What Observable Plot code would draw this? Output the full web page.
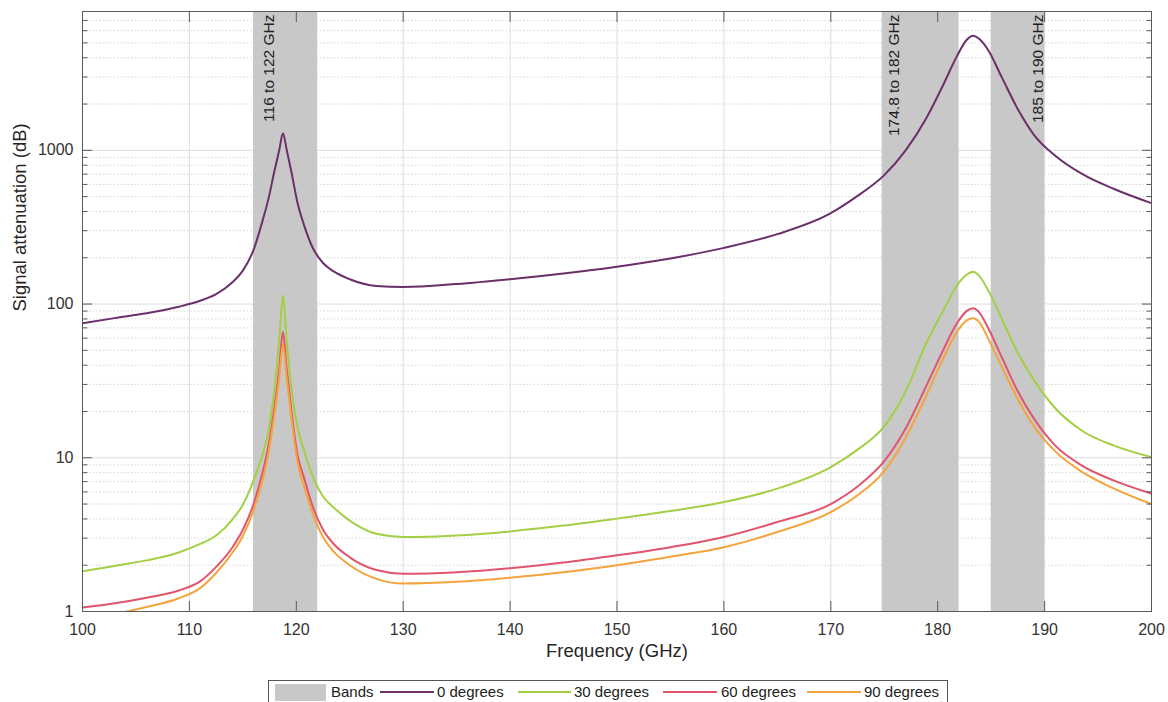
<!DOCTYPE html>
<html>
<head>
<meta charset="utf-8">
<script src="https://cdn.jsdelivr.net/npm/d3@7"></script>
<script src="https://cdn.jsdelivr.net/npm/@observablehq/plot@0.6"></script>
<style>
  body { margin: 0; background: #fff; font-family: "Liberation Sans", Arial, sans-serif; }
  #wrap { position: relative; width: 1168px; height: 702px; overflow: hidden; background: #fff; }
  #chart { position: absolute; left: 0; top: 0; }
  #legend { position: absolute; left: 268px; top: 680px; width: 680px; height: 24px; border: 1px solid #555; background: #fff; box-sizing: border-box; font-size: 15px; color: #222; }
  #legend .it { position: absolute; top: 0; height: 22px; line-height: 22px; white-space: nowrap; }
  #legend .sw { position: absolute; top: 3px; height: 17px; background: #c8c8c8; }
  #legend .ln { position: absolute; top: 10px; height: 2px; }
</style>
</head>
<body>
<div id="wrap"><div id="chart"></div><div id="legend"></div></div>
<script>
// ---- data ----
const freq = [100, 103, 106, 109, 111, 112.5, 114, 115, 116, 116.8, 117.4, 117.95, 118.4, 118.75, 119.1, 119.55, 120.1, 120.7, 121.5, 122.5, 123.5, 125, 127.5, 130, 135, 140, 145, 150, 155, 160, 165, 170, 172.5, 175, 177, 179, 180.5, 181.8, 182.7, 183.3, 183.9, 184.8, 186, 187.5, 189, 191, 193.5, 196.5, 200];
const att0 = [75, 81, 87, 96, 105, 116, 138, 165, 225, 340, 485, 730, 1000, 1290, 1010, 720, 460, 330, 235, 185, 163, 145, 131, 129, 135, 145, 158, 175, 198, 232, 285, 390, 505, 690, 1000, 1650, 2650, 4100, 5220, 5570, 5300, 4400, 2980, 1850, 1262, 922, 702, 560, 453];
const att30 = [1.83, 1.98, 2.15, 2.42, 2.75, 3.12, 3.95, 4.95, 7.1, 10.3, 15, 28, 58, 114, 58, 28, 16, 11.3, 7.7, 5.6, 4.75, 3.9, 3.2, 3.05, 3.12, 3.32, 3.62, 4.02, 4.5, 5.15, 6.3, 8.7, 11.3, 16, 27, 57, 90, 132, 155, 162, 152, 120, 80, 48, 32, 21, 15, 12, 10.1];
const att60 = [1.06, 1.13, 1.23, 1.37, 1.57, 1.95, 2.6, 3.4, 5.0, 7.8, 12, 21, 38, 66, 38, 20, 10.5, 7.5, 4.9, 3.4, 2.75, 2.25, 1.86, 1.76, 1.8, 1.91, 2.08, 2.32, 2.62, 3.05, 3.82, 5.0, 6.5, 9.5, 15.5, 30, 50, 75, 90, 93.8, 88, 68, 45, 27, 18, 12, 8.9, 7.1, 5.85];
const att90 = [0.9, 0.965, 1.07, 1.22, 1.42, 1.78, 2.4, 3.1, 4.55, 7.0, 10.8, 19, 33, 55, 33, 18, 9.5, 6.6, 4.4, 3.05, 2.45, 2.0, 1.63, 1.52, 1.56, 1.66, 1.8, 2.0, 2.27, 2.62, 3.29, 4.43, 5.7, 8.2, 13.5, 26, 44, 66, 78, 80.7, 76, 58, 39, 24, 16, 11, 8.1, 6.3, 5.0];
const seriesNames = ["0 degrees", "30 degrees", "60 degrees", "90 degrees"];
const bandStart = [116, 174.8, 185];
const bandEnd = [122, 182, 190];
const bandLabel = ["116 to 122 GHz", "174.8 to 182 GHz", "185 to 190 GHz"];
const xTicks = [100, 110, 120, 130, 140, 150, 160, 170, 180, 190, 200];
const yTicks = [1, 10, 100, 1000];
const yTickLabels = ["1", "10", "100", "1000"];
const xLabel = "Frequency (GHz)";
const yLabel = "Signal attenuation (dB)";
const legendBandsLabel = "Bands";

// ---- derived tables ----
const seriesValues = [att0, att30, att60, att90];
const colors = ["#6b2f6b", "#a3cf45", "#e2546b", "#f4a43c"];
const rows = seriesNames.flatMap((s, i) => freq.map((f, j) => ({f, v: seriesValues[i][j], s})));
const bands = bandStart.map((s, i) => ({start: s, end: bandEnd[i], label: bandLabel[i]}));
const minorY = [];
for (const dec of [1, 10, 100, 1000]) for (let m = 2; m <= 9; m++) if (dec * m <= 8000) minorY.push(dec * m);

const axisColor = "#5a5a5a";
const labelPlacement = [{key: "start", dx: 9}, {key: "start", dx: 6}, {key: "end", dx: -13}];

const plot = Plot.plot({
  width: 1168, height: 680,
  marginTop: 11, marginRight: 17, marginBottom: 69, marginLeft: 82,
  style: {fontFamily: "'Liberation Sans', Arial, sans-serif", fontSize: "16px", color: "#333", background: "transparent", overflow: "visible"},
  x: {domain: [100, 200]},
  y: {type: "log", domain: [1, 8000]},
  color: {domain: seriesNames, range: colors},
  marks: [
    Plot.gridX(xTicks, {stroke: "#dedede", strokeOpacity: 1}),
    Plot.gridY(minorY, {stroke: "#d6d6d6", strokeOpacity: 1, strokeDasharray: "1.5,2"}),
    Plot.gridY(yTicks, {stroke: "#dcdcdc", strokeOpacity: 1}),
    Plot.rect(bands, {x1: "start", x2: "end", fill: "#c8c8c8"}),
    Plot.line(rows, {x: "f", y: "v", z: "s", stroke: "s", strokeWidth: 2, curve: "monotone-x", clip: true}),
    ...bands.map((b, i) => Plot.text([b], {
      x: labelPlacement[i].key, text: "label", frameAnchor: "top", rotate: -90,
      textAnchor: "end", dx: labelPlacement[i].dx, dy: 3, fontSize: 15.5, fill: "#222"
    })),
    Plot.frame({stroke: axisColor}),
    Plot.axisX(xTicks, {anchor: "bottom", tickSize: 0, tickPadding: 12, tickFormat: d => String(d), label: null, fontSize: 16}),
    Plot.axisX(xTicks, {anchor: "bottom", tickSize: -10, tickFormat: () => "", label: null, stroke: axisColor}),
    Plot.axisX(xTicks, {anchor: "top", tickSize: -10, tickFormat: () => "", label: null, stroke: axisColor}),
    Plot.axisY(yTicks, {anchor: "left", tickSize: 0, tickPadding: 9, tickFormat: d => yTickLabels[yTicks.indexOf(d)], label: null, fontSize: 16}),
    Plot.axisY(yTicks, {anchor: "left", tickSize: -10, tickFormat: () => "", label: null, stroke: axisColor}),
    Plot.axisY(yTicks, {anchor: "right", tickSize: -10, tickFormat: () => "", label: null, stroke: axisColor}),
    Plot.axisY(minorY, {anchor: "left", tickSize: -5.5, tickFormat: () => "", label: null, stroke: axisColor}),
    Plot.axisY(minorY, {anchor: "right", tickSize: -5.5, tickFormat: () => "", label: null, stroke: axisColor}),
    Plot.text([xLabel], {frameAnchor: "bottom", dy: 45, fontSize: 18.5, fill: "#262626"}),
    Plot.text([yLabel], {frameAnchor: "left", dx: -62, rotate: -90, fontSize: 18.5, fill: "#262626"})
  ]
});
document.getElementById("chart").appendChild(plot);

// ---- legend (HTML, below the SVG) ----
const legend = document.getElementById("legend");
const items = [
  {type: "sw", left: 6, width: 51, label: legendBandsLabel, tx: 62},
  {type: "ln", left: 111, width: 54, color: colors[0], label: seriesNames[0], tx: 168},
  {type: "ln", left: 249, width: 53, color: colors[1], label: seriesNames[1], tx: 305},
  {type: "ln", left: 394, width: 54, color: colors[2], label: seriesNames[2], tx: 452},
  {type: "ln", left: 538, width: 54, color: colors[3], label: seriesNames[3], tx: 595}
];
for (const it of items) {
  const m = document.createElement("div");
  m.className = it.type;
  m.style.left = it.left + "px";
  m.style.width = it.width + "px";
  if (it.color) m.style.background = it.color;
  legend.appendChild(m);
  const t = document.createElement("div");
  t.className = "it";
  t.style.left = it.tx + "px";
  t.textContent = it.label;
  legend.appendChild(t);
}
</script>
</body>
</html>
